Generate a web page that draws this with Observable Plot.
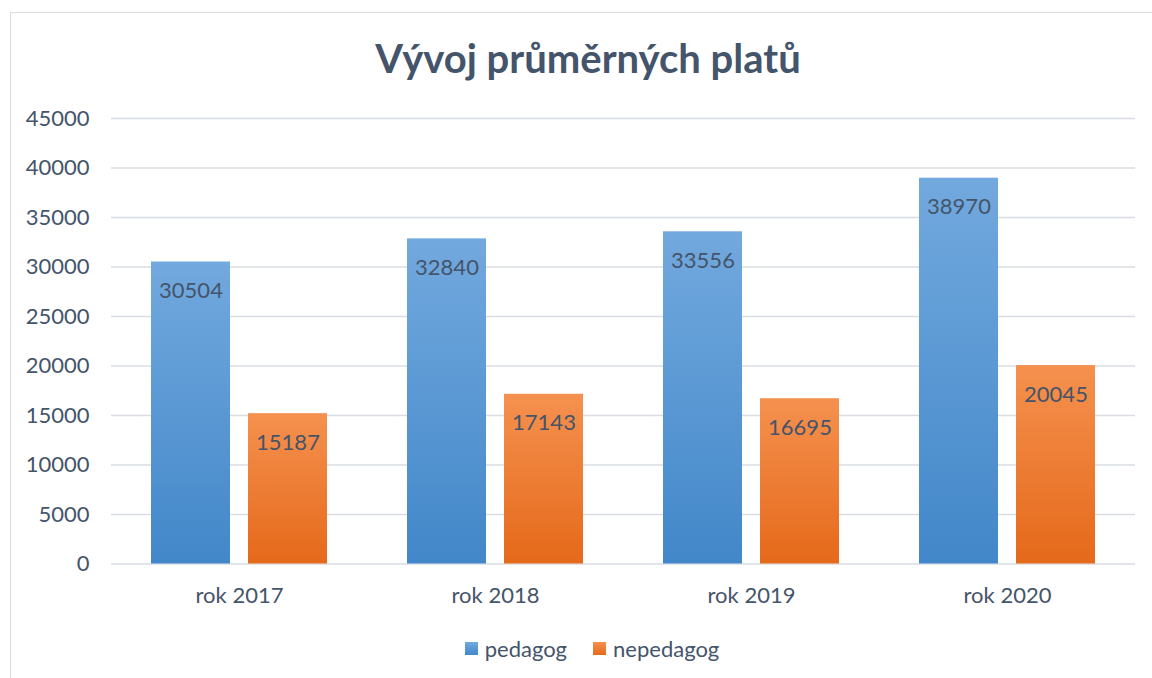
<!DOCTYPE html>
<html>
<head>
<meta charset="utf-8">
<script src="https://cdn.jsdelivr.net/npm/d3@7"></script>
<script src="https://cdn.jsdelivr.net/npm/@observablehq/plot@0.6"></script>
<style>
  html, body { margin: 0; padding: 0; background: #fff; }
  body { width: 1152px; height: 678px; position: relative; overflow: hidden; font-family: Lato, "Open Sans", sans-serif; color: #44546A; }
  #frame { position: absolute; left: 10px; top: 12px; width: 1200px; height: 700px; border-left: 1px solid #d9dde3; border-top: 1px solid #d9dde3; }
  #title { position: absolute; left: 0; top: 34px; width: 1176px; text-align: center; font-size: 40px; font-weight: 700; color: #44546A; }
  #chart { position: absolute; left: 0; top: 100px; }
  #legend { position: absolute; left: 0; top: 635px; width: 1184px; display: flex; justify-content: center; gap: 26px; font-size: 22px; color: #44546A; }
  .item { display: flex; align-items: center; gap: 7px; }
  .sw { width: 13px; height: 13px; display: inline-block; }
</style>
</head>
<body>
<div id="frame"></div>
<div id="title">Vývoj průměrných platů</div>
<div id="chart"></div>
<div id="legend"></div>
<script>
const years = ["rok 2017", "rok 2018", "rok 2019", "rok 2020"];
const series = ["pedagog", "nepedagog"];
const pedagog = [30504, 32840, 33556, 38970];
const nepedagog = [15187, 17143, 16695, 20045];
const yTicks = [0, 5000, 10000, 15000, 20000, 25000, 30000, 35000, 40000, 45000];
const gradients = {
  pedagog: ["#72A9DE", "#4287C9"],
  nepedagog: ["#F5914F", "#E5691A"]
};

const data = years.flatMap((y, i) => [
  {year: y, series: "pedagog", value: pedagog[i]},
  {year: y, series: "nepedagog", value: nepedagog[i]}
]);

const chart = Plot.plot({
  width: 1152,
  height: 520,
  marginLeft: 110,
  marginRight: 16,
  marginTop: 18,
  marginBottom: 56.5,
  style: {fontFamily: "Lato, 'Open Sans', sans-serif", fontSize: "22px", color: "#44546A", background: "transparent", overflow: "visible"},
  fx: {domain: years, padding: 0, label: null, axis: null},
  x: {domain: series, paddingInner: 0.1837, paddingOuter: 0.4005, axis: null},
  y: {domain: [0, 45000], axis: null},
  color: {domain: series, range: ["url(#g-pedagog)", "url(#g-nepedagog)"]},
  marks: [
    Plot.ruleY(yTicks, {stroke: "#d9dde3", strokeWidth: 1.5}),
    Plot.barY(data, {fx: "year", x: "series", y: "value", fill: "series"}),
    Plot.text(data, {fx: "year", x: "series", y: "value", text: d => String(d.value), dy: 29, fill: "#44546A", fontSize: 22}),
    Plot.axisY(yTicks, {tickSize: 0, tickPadding: 22, fontSize: 22, label: null, tickFormat: d => String(d), fill: "#44546A"}),
    Plot.axisFx({anchor: "bottom", tickSize: 0, tickPadding: 23, fontSize: 22, label: null, fill: "#44546A"})
  ]
});

const defs = d3.select(chart).insert("defs", ":first-child");
for (const s of series) {
  const g = defs.append("linearGradient").attr("id", "g-" + s)
    .attr("x1", 0).attr("y1", 0).attr("x2", 0).attr("y2", 1);
  g.append("stop").attr("offset", "0%").attr("stop-color", gradients[s][0]);
  g.append("stop").attr("offset", "100%").attr("stop-color", gradients[s][1]);
}
document.getElementById("chart").appendChild(chart);

const legend = d3.select("#legend");
for (const s of series) {
  const it = legend.append("div").attr("class", "item");
  it.append("span").attr("class", "sw")
    .style("background", `linear-gradient(${gradients[s][0]}, ${gradients[s][1]})`);
  it.append("span").text(s);
}
</script>
</body>
</html>
